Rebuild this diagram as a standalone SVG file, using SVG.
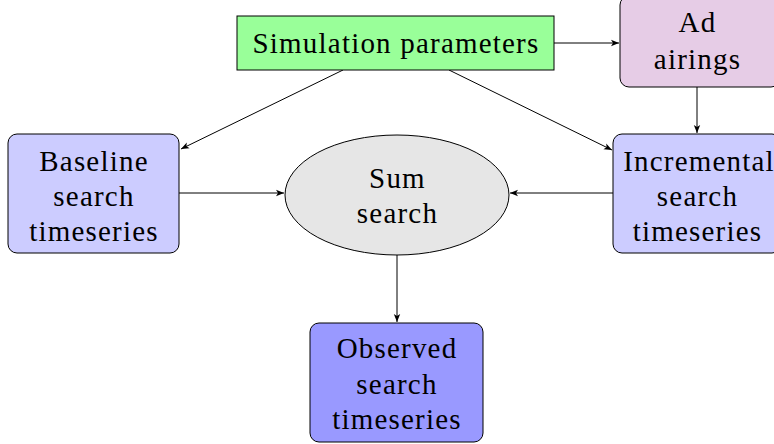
<svg xmlns="http://www.w3.org/2000/svg" width="774" height="444" viewBox="0 0 774 444">
<style>
text{font-family:"Liberation Serif","Times New Roman",serif;font-size:29px;letter-spacing:1.2px;fill:#000;text-anchor:middle}
.n{stroke:#000;stroke-width:1}
.c line{stroke:#000;stroke-width:1;marker-end:url(#ah)}
</style>
<defs>
<marker id="ah" viewBox="0 0 10 10" refX="10" refY="5" markerWidth="8" markerHeight="8" markerUnits="userSpaceOnUse" orient="auto">
<path d="M0,1 L10,5 L0,9 L2.5,5 Z" fill="#000"/>
</marker>
</defs>
<g class="c" id="connectors">
<line x1="554" y1="43" x2="619" y2="43"/>
<line x1="697" y1="87" x2="697" y2="133"/>
<line x1="343" y1="70" x2="181" y2="149"/>
<line x1="449" y1="70" x2="612" y2="150"/>
<line x1="179" y1="193" x2="284" y2="193"/>
<line x1="613" y1="193" x2="510" y2="193"/>
<line x1="397" y1="255" x2="397" y2="322"/>
</g>
<g id="sim">
<rect class="n" x="237" y="16" width="317" height="54" fill="#99ff99"/>
<text x="396" y="53">Simulation parameters</text>
</g>
<g id="ad">
<rect class="n" x="620" y="-4" width="160" height="91" rx="9" fill="#e6cce6"/>
<text x="697.5" y="32">Ad</text>
<text x="697.5" y="69">airings</text>
</g>
<g id="baseline">
<rect class="n" x="8" y="134" width="171" height="119" rx="9" fill="#ccccff"/>
<text x="94" y="171">Baseline</text>
<text x="94" y="206">search</text>
<text x="94" y="241">timeseries</text>
</g>
<g id="incremental">
<rect class="n" x="613" y="134" width="168" height="119" rx="9" fill="#ccccff"/>
<text x="699" y="171">Incremental</text>
<text x="697.5" y="206">search</text>
<text x="697.5" y="241">timeseries</text>
</g>
<g id="sum">
<ellipse class="n" cx="397" cy="195" rx="112" ry="60" fill="#e6e6e6"/>
<text x="397.5" y="188">Sum</text>
<text x="397.5" y="223">search</text>
</g>
<g id="observed">
<rect class="n" x="310" y="323" width="173" height="119" rx="9" fill="#9999ff"/>
<text x="397" y="358">Observed</text>
<text x="397" y="394">search</text>
<text x="397" y="429">timeseries</text>
</g>
</svg>
